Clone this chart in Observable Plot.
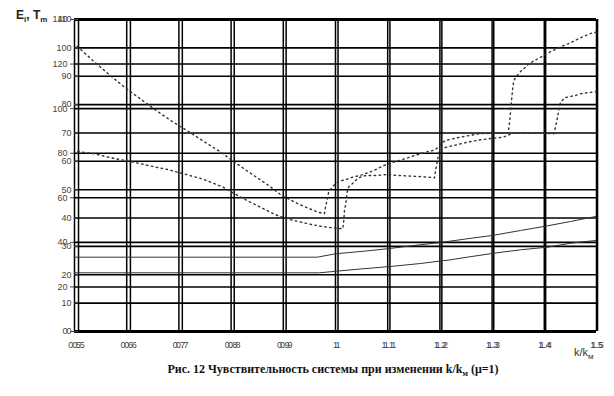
<!DOCTYPE html>
<html><head><meta charset="utf-8">
<script src="https://cdn.jsdelivr.net/npm/d3@7"></script>
<script src="https://cdn.jsdelivr.net/npm/@observablehq/plot@0.6"></script>
<style>
body{margin:0;background:#fff;width:614px;height:396px;position:relative;overflow:hidden;font-family:"Liberation Sans",Arial,sans-serif}
#chart{position:absolute;left:0;top:0}
#ytitle{position:absolute;left:16px;top:8px;font-size:12px;font-weight:bold;color:#222}
#ytitle sub,#xtitle sub{font-size:8px;vertical-align:-3px}
#xtitle{position:absolute;left:574px;top:346px;font-size:11px;color:#333}
#caption{position:absolute;left:0;width:666px;top:362px;text-align:center;font-family:"Liberation Serif","Times New Roman",serif;font-weight:bold;font-size:12px;color:#111}
#caption sub{font-size:8px}
</style></head><body>
<div id="chart"></div>
<div id="ytitle">E<sub>i</sub>, T<sub>m</sub></div>
<div id="xtitle">k/k<sub>м</sub></div>
<div id="caption">Рис. 12 Чувствительность системы при изменении k/k<sub>м</sub> (μ=1)</div>
<script>
// tick values
const kTicks = [0.5,0.6,0.7,0.8,0.9,1.0,1.1,1.2,1.3,1.4,1.5];
const eiTicks = [0,20,40,60,80,100,120,140];
const tmTicks = [0,10,20,30,40,50,60,70,80,90,100,110];
const EI_MAX = 140, TM_MAX = 110;
// the second k axis (k = 0.5 .. 1.5) sits slightly shifted on the first one
const K2_START = 0.5077, K2_END = 1.502;

// series A (upper dotted)
const kA = [0.5052,0.5364,0.567,0.5971,0.6278,0.6565,0.6872,0.7184,0.7477,0.7784,0.8084,0.8372,0.8692,0.8979,0.9285,0.9489,0.9688,0.9789,0.9808,0.9841,0.9872,0.9967,1.0063,1.0192,1.0287,1.0511,1.0734,1.0925,1.1117,1.1322,1.1519,1.1724,1.1916,1.1973,1.2044,1.2107,1.2299,1.249,1.2745,1.3002,1.3308,1.3339,1.3372,1.3397,1.3416,1.3511,1.3607,1.3703,1.3908,1.41,1.4297,1.4502,1.4693,1.4904,1.5];
const eA = [128.02,121.29,115.19,109.35,104.1,99.17,94.23,89.74,85.26,80.77,75.7,71.03,65.96,60.89,57.3,55.19,53.4,52.95,55.78,59.1,62.96,65.51,67.44,68.07,68.97,70.31,72.24,74.49,75.97,77.49,78.97,80.46,81.53,83.01,84.67,85.71,86.74,87.64,88.71,88.98,88.98,94.68,103.65,109.62,112.63,115.9,117.88,120.12,122.81,125.33,127.57,129.55,131.79,133.85,134.3];
// series B (lower dotted)
const kB = [0.5063,0.5383,0.567,0.5971,0.6278,0.6565,0.6757,0.7107,0.7466,0.7657,0.7849,0.8033,0.8243,0.8448,0.8659,0.8851,0.9124,0.9343,0.954,0.9745,0.9937,1.014,1.0159,1.0172,1.0197,1.0224,1.0249,1.032,1.0416,1.0511,1.0607,1.0799,1.099,1.1213,1.1398,1.1596,1.1787,1.1897,1.1916,1.1935,1.196,1.1987,1.2075,1.2266,1.2523,1.2778,1.3033,1.3213,1.3289,1.3416,1.3678,1.3927,1.4182,1.4215,1.4234,1.4278,1.431,1.4393,1.4489,1.4598,1.4693,1.4808,1.4918,1.5];
const eB = [80.77,79.74,78.08,76.73,75.25,73.72,72.83,70.67,68.34,66.55,64.75,62.24,59.55,57.12,54.61,52.37,50.26,49.05,48.01,47.12,46.53,46.08,49.81,54.3,57.3,62.51,64.75,66.28,68.52,69.69,70,70,70.45,70,69.78,69.55,69.24,68.97,72.24,74.49,77.49,81.22,82.43,83.46,84.94,86.02,86.74,87.19,87.95,88.98,88.98,88.98,88.71,91.67,93.92,99.17,102.89,104.87,105.45,105.9,106.66,107.11,107.38,107.69];
// series C (upper solid)
const kC = [0.5,0.9649,1.0,1.0542,1.099,1.15,1.2011,1.2523,1.3002,1.3544,1.4023,1.4502,1.4981];
const eC = [33.34,33.34,34.87,36.03,37.11,38.59,39.94,41.6,43.08,45.32,47.25,49.36,51.6];
// series D (lower solid)
const kD = [0.5,0.9693,1.0019,1.0479,1.1054,1.1628,1.2203,1.2523,1.3033,1.3544,1.4056,1.4502,1.4981];
const eD = [26.34,26.34,27.06,28.05,29.17,30.51,32.17,33.34,35.13,36.66,37.83,39.62,40.83];

const pts = (ks, es) => ks.map((k, i) => ({k, e: es[i]}));
const k2ToK1 = k => K2_START + (k - 0.5) * (K2_END - K2_START);
const k1ToK2 = k => 0.5 + (k - K2_START) / (K2_END - K2_START);
const tmToEi = t => t * EI_MAX / TM_MAX;
const fmt = v => String(+v.toFixed(1));

const plot = Plot.plot({
  width: 614, height: 350,
  marginLeft: 74, marginRight: 18, marginTop: 19, marginBottom: 19,
  style: {fontFamily: '"Liberation Sans", Arial, sans-serif', fontSize: "9px", color: "#444", background: "#fff"},
  x: {domain: [0.5, 1.5], axis: null},
  y: {domain: [0, EI_MAX], axis: null},
  marks: [
    Plot.ruleY(eiTicks, {stroke: "#000", strokeWidth: 1.6}),
    Plot.ruleY(tmTicks, {y: tmToEi, stroke: "#000", strokeWidth: 1.6}),
    Plot.ruleX(kTicks, {stroke: "#000", strokeWidth: 1.5}),
    Plot.ruleX(kTicks, {x: k2ToK1, stroke: "#000", strokeWidth: 1.5}),
    Plot.ruleY([0, EI_MAX], {stroke: "#000", strokeWidth: 3}),
    Plot.axisY({ticks: eiTicks, tickSize: 4, tickPadding: 3, anchor: "left", label: null, tickFormat: d => String(d), fill: "#444"}),
    Plot.axisY({ticks: tmTicks.map(tmToEi), tickSize: 4, tickPadding: 3, dx: 4, anchor: "left", label: null, tickFormat: d => String(Math.round(d * TM_MAX / EI_MAX)), fill: "#444"}),
    Plot.axisX({ticks: kTicks, tickSize: 0, tickPadding: 10, anchor: "bottom", label: null, tickFormat: fmt, fill: "#444"}),
    Plot.axisX({ticks: kTicks.map(k2ToK1), tickSize: 0, tickPadding: 10, anchor: "bottom", label: null, tickFormat: d => fmt(k1ToK2(d)), fill: "#444"}),
    Plot.line(pts(kC, eC), {x: "k", y: "e", stroke: "#333", strokeWidth: 1}),
    Plot.line(pts(kD, eD), {x: "k", y: "e", stroke: "#333", strokeWidth: 1}),
    Plot.line(pts(kA, eA), {x: "k", y: "e", stroke: "#333", strokeWidth: 1.4, strokeDasharray: "1.5,3.5"}),
    Plot.line(pts(kB, eB), {x: "k", y: "e", stroke: "#333", strokeWidth: 1.4, strokeDasharray: "1.5,3.5"})
  ]
});
document.getElementById("chart").appendChild(plot);
</script>
</body></html>
